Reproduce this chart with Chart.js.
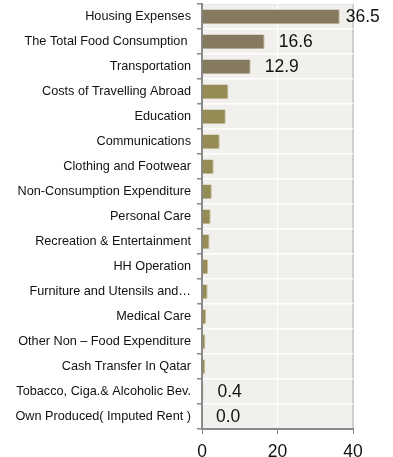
<!DOCTYPE html>
<html>
<head>
<meta charset="utf-8">
<script src="https://cdn.jsdelivr.net/npm/chart.js@4"></script>
<style>
  html, body { margin: 0; padding: 0; background: #fff; }
  #wrap { width: 393px; height: 457px; position: relative; }
</style>
</head>
<body>
<div id="wrap"><canvas id="myChart"></canvas></div>
<script>
// expenditure shares (%) by group
var categories = [
    'Housing Expenses',
    'The Total Food Consumption ',
    'Transportation',
    'Costs of Travelling Abroad',
    'Education',
    'Communications',
    'Clothing and Footwear',
    'Non-Consumption Expenditure',
    'Personal Care',
    'Recreation & Entertainment',
    'HH Operation',
    'Furniture and Utensils and\u2026',
    'Medical Care',
    'Other Non \u2013 Food Expenditure',
    'Cash Transfer In Qatar',
    'Tobacco, Ciga.& Alcoholic Bev.',
    'Own Produced( Imputed Rent )'
];
var shares = [36.5, 16.6, 12.9, 7.0, 6.3, 4.7, 3.1, 2.6, 2.3, 2.0, 1.6, 1.5, 1.1, 0.9, 0.8, 0.4, 0.0];
// only these bars carry a value label in the original
var labelled = [0, 1, 2, 15, 16];
var xTicks = [0, 20, 40];

var darkColor = '#857a60';
var oliveColor = '#958b55';

var barColors = shares.map(function (v, i) { return i < 3 ? darkColor : oliveColor; });

var plotBackground = {
    id: 'plotBackground',
    beforeDraw: function (chart) {
        var a = chart.chartArea, c = chart.ctx;
        c.save();
        c.fillStyle = '#f1f0ec';
        c.fillRect(a.left, a.top, a.right - a.left, a.bottom - a.top);
        c.strokeStyle = '#cfcfcf';
        c.lineWidth = 2;
        c.beginPath();
        c.moveTo(a.left, a.top);
        c.lineTo(a.right, a.top);
        c.lineTo(a.right, a.bottom);
        c.stroke();
        c.restore();
    }
};

var valueLabels = {
    id: 'valueLabels',
    afterDatasetsDraw: function (chart) {
        var c = chart.ctx;
        var meta = chart.getDatasetMeta(0);
        c.save();
        c.font = '17.5px "Liberation Sans", Arial, sans-serif';
        c.fillStyle = '#111';
        c.textBaseline = 'middle';
        labelled.forEach(function (i) {
            var bar = meta.data[i];
            var gap = i === 0 ? 6 : 14;
            c.fillText(shares[i].toFixed(1), bar.x + gap, bar.y + 1);
        });
        c.restore();
    }
};

var ctx = document.getElementById('myChart').getContext('2d');
var chart = new Chart(ctx, {
    type: 'bar',
    data: {
        labels: categories,
        datasets: [{
            data: shares,
            backgroundColor: barColors,
            borderColor: '#c4bc94',
            borderWidth: { right: 1, left: 0, top: 0, bottom: 0 },
            borderSkipped: false,
            categoryPercentage: 1.0,
            barPercentage: 0.57
        }]
    },
    options: {
        indexAxis: 'y',
        responsive: true,
        maintainAspectRatio: false,
        animation: false,
        layout: { padding: { top: 4, right: 40, left: 0, bottom: 0 } },
        plugins: {
            legend: { display: false },
            tooltip: { enabled: false }
        },
        scales: {
            x: {
                min: 0,
                max: 40,
                afterBuildTicks: function (axis) {
                    axis.ticks = xTicks.map(function (v) { return { value: v }; });
                },
                afterFit: function (axis) { axis.height = 28; },
                ticks: {
                    color: '#111',
                    font: { size: 17.5, family: '"Liberation Sans", Arial, sans-serif' },
                    padding: 8,
                    maxRotation: 0
                },
                grid: {
                    color: function (c) { return c.tick && c.tick.value === 20 ? '#ffffff' : 'rgba(0,0,0,0)'; },
                    tickColor: '#8a8a8a',
                    tickLength: 5,
                    drawOnChartArea: true
                },
                border: { color: '#8a8a8a', width: 2 }
            },
            y: {
                afterFit: function (axis) {
                    axis.width = 202;
                    axis.paddingTop = 0;
                    axis.paddingBottom = 0;
                },
                ticks: {
                    color: '#111',
                    font: { size: 12.7, family: '"Liberation Sans", Arial, sans-serif' },
                    padding: 6,
                    autoSkip: false
                },
                grid: {
                    color: '#ffffff',
                    lineWidth: 1.5,
                    tickColor: '#8a8a8a',
                    tickLength: 5,
                    offset: true
                },
                border: { color: '#8a8a8a', width: 2 }
            }
        }
    },
    plugins: [plotBackground, valueLabels]
});
</script>
</body>
</html>
